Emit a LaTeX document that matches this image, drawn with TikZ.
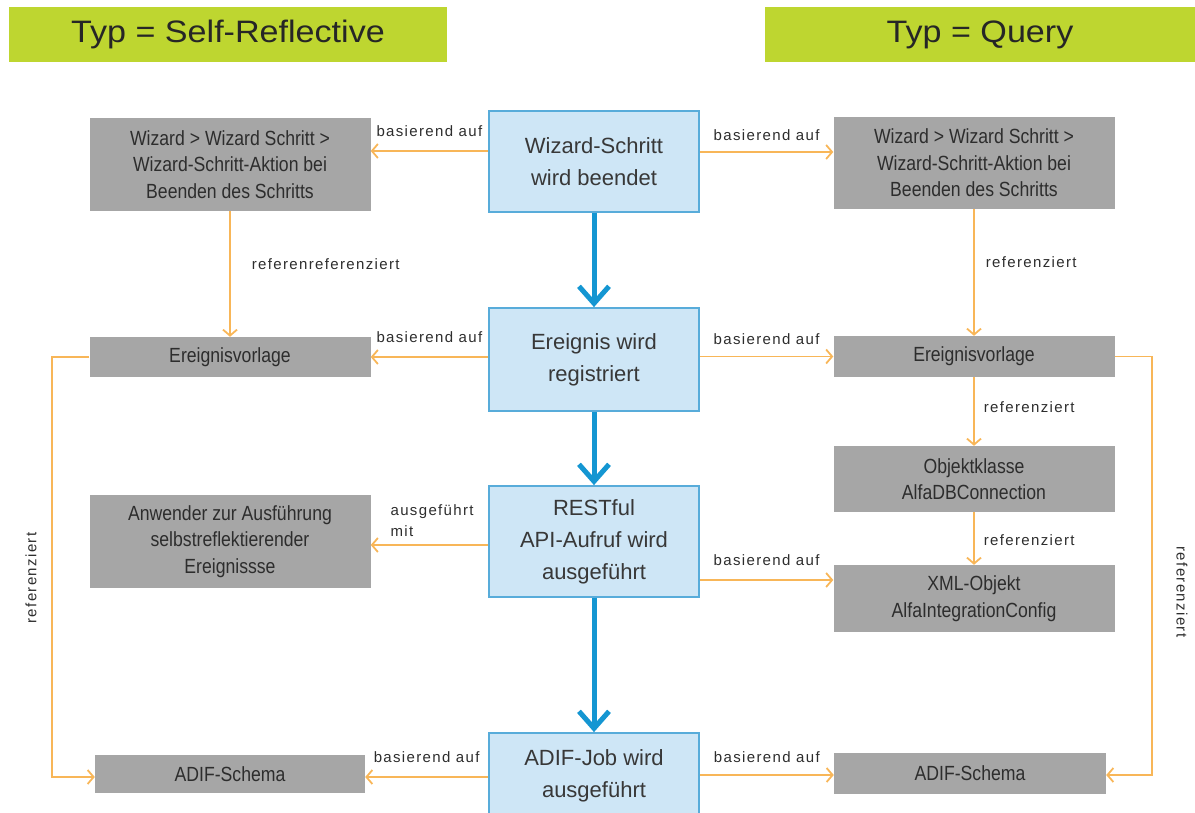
\documentclass[tikz,border=0pt]{standalone}
\usepackage{fontspec}
\setmainfont{Liberation Sans}
\newfontfamily\titlefont[FakeStretch=1.1]{Liberation Sans}
\newfontfamily\boxfont[FakeStretch=0.86]{Liberation Sans}
\newfontfamily\lblfont[LetterSpace=9]{Liberation Sans}
\usetikzlibrary{arrows.meta}

\definecolor{typgreen}{RGB}{190,214,48}
\definecolor{evfill}{RGB}{206,230,246}
\definecolor{evline}{RGB}{88,172,218}
\definecolor{flowblue}{RGB}{20,150,210}
\definecolor{objgray}{RGB}{166,166,166}
\definecolor{refline}{RGB}{248,182,88}
\definecolor{txtgray}{RGB}{45,45,45}

\begin{document}
\begin{tikzpicture}[x=1pt,y=-1pt,
  typbox/.style={fill=typgreen, minimum height=55pt, inner sep=0pt, text=black!85,
    font=\titlefont\fontsize{31}{36}\selectfont},
  event/.style={draw=evline, line width=1.8pt, fill=evfill, minimum width=210pt,
    align=center, text=txtgray!95, font=\fontsize{22}{32}\selectfont},
  obj/.style={fill=objgray, minimum width=281pt, align=center, text=txtgray,
    font=\boxfont\fontsize{20.5}{26.5}\selectfont},
  flow/.style={flowblue, line width=5pt, -{Straight Barb[length=17pt,width=30pt]}},
  ref/.style={refline, line width=1.8pt, -{Straight Barb[length=6pt,width=14pt]}},
  lbl/.style={text=txtgray, inner sep=2pt, font=\lblfont\fontsize{15}{21}\selectfont}]
\useasboundingbox (0,0) rectangle (1195,812);

% headers
\node[typbox, minimum width=438pt] (typself) at (228,34.5) {Typ = Self-Reflective};
\node[typbox, minimum width=430pt] (typquery) at (980,34.5) {Typ = Query};

% events (middle column)
\node[event, minimum height=101pt] (wizdone) at (594,161.5) {Wizard-Schritt\\wird beendet};
\node[event, minimum height=103pt] (evreg) at (594,359.5) {Ereignis wird\\registriert};
\node[event, minimum height=111pt] (apicall) at (594,541.5) {RESTful\\API-Aufruf wird\\ausgeführt};
\node[event, minimum height=86pt] (adifjob) at (594,776) {ADIF-Job wird\\ausgeführt};

% self-reflective side
\node[obj, minimum height=93pt] (wizL) at (230,164.5) {Wizard > Wizard Schritt >\\Wizard-Schritt-Aktion bei\\Beenden des Schritts};
\node[obj, minimum height=40pt] (tplL) at (230,357) {Ereignisvorlage};
\node[obj, minimum height=93pt] (runL) at (230,541.5) {Anwender zur Ausführung\\selbstreflektierender\\Ereignissse};
\node[obj, minimum height=38pt, minimum width=270pt] (schemaL) at (230,774) {ADIF-Schema};

% query side
\node[obj, minimum height=92pt] (wizR) at (974,163) {Wizard > Wizard Schritt >\\Wizard-Schritt-Aktion bei\\Beenden des Schritts};
\node[obj, minimum height=41pt] (tplR) at (974,356.5) {Ereignisvorlage};
\node[obj, minimum height=66pt] (classR) at (974,479) {Objektklasse\\AlfaDBConnection};
\node[obj, minimum height=67pt] (xmlR) at (974,598.5) {XML-Objekt\\AlfaIntegrationConfig};
\node[obj, minimum height=41pt, minimum width=272pt] (schemaR) at (970,773.5) {ADIF-Schema};

% main flow
\draw[flow] (wizdone.south) -- (evreg.north);
\draw[flow] (evreg.south) -- (apicall.north);
\draw[flow] (apicall.south) -- (adifjob.north);

% basierend auf
\draw[ref] ([yshift=10.5pt]wizdone.west) -- ([yshift=10.5pt]wizdone.west -| wizL.east)
  node[lbl, midway, above=11pt] {basierend auf};
\draw[ref] ([yshift=9.5pt]wizdone.east) -- ([yshift=9.5pt]wizdone.east -| wizR.west)
  node[lbl, midway, above=8.5pt] {basierend auf};
\draw[ref] (evreg.west |- tplL.east) -- (tplL.east)
  node[lbl, midway, above=11.5pt] {basierend auf};
\draw[ref] (evreg.east |- tplR.west) -- (tplR.west)
  node[lbl, midway, above=8.5pt] {basierend auf};
\draw[ref] ([yshift=-3.5pt]apicall.west) -- ([yshift=-3.5pt]apicall.west -| runL.east)
  node[lbl, at end, anchor=south west, align=left, xshift=17pt, yshift=5pt] {ausgeführt\\mit};
\draw[ref] ([yshift=-38.5pt]apicall.east) -- ([yshift=-38.5pt]apicall.east -| xmlR.west)
  node[lbl, midway, above=11pt] {basierend auf};
\draw[ref] ([yshift=-1pt]adifjob.west) -- ([yshift=-1pt]adifjob.west -| schemaL.east)
  node[lbl, midway, above=11pt] {basierend auf};
\draw[ref] ([yshift=1pt]adifjob.east) -- ([yshift=1pt]adifjob.east -| schemaR.west)
  node[lbl, midway, above=9.5pt] {basierend auf};

% referenziert
\draw[ref] (wizL) -- (tplL) node[lbl, pos=0.42, right=19pt] {referenreferenziert};
\draw[ref] (wizR) -- (tplR) node[lbl, pos=0.42, right=9pt] {referenziert};
\draw[ref] (tplR) -- (classR) node[lbl, pos=0.43, right=7pt] {referenziert};
\draw[ref] (classR) -- (xmlR) node[lbl, pos=0.53, right=7pt] {referenziert};
\draw[ref] (tplL.west) -- ++(-37,0) |- ([yshift=-3pt]schemaL.west);
\draw[ref] (tplR.east) -- ++(37,0) |- ([yshift=-1.5pt]schemaR.east);
\node[lbl, rotate=90] (refleft) at (31,578) {referenziert};
\node[lbl, rotate=-90] (refright) at (1182,592) {referenziert};
\end{tikzpicture}
\end{document}
